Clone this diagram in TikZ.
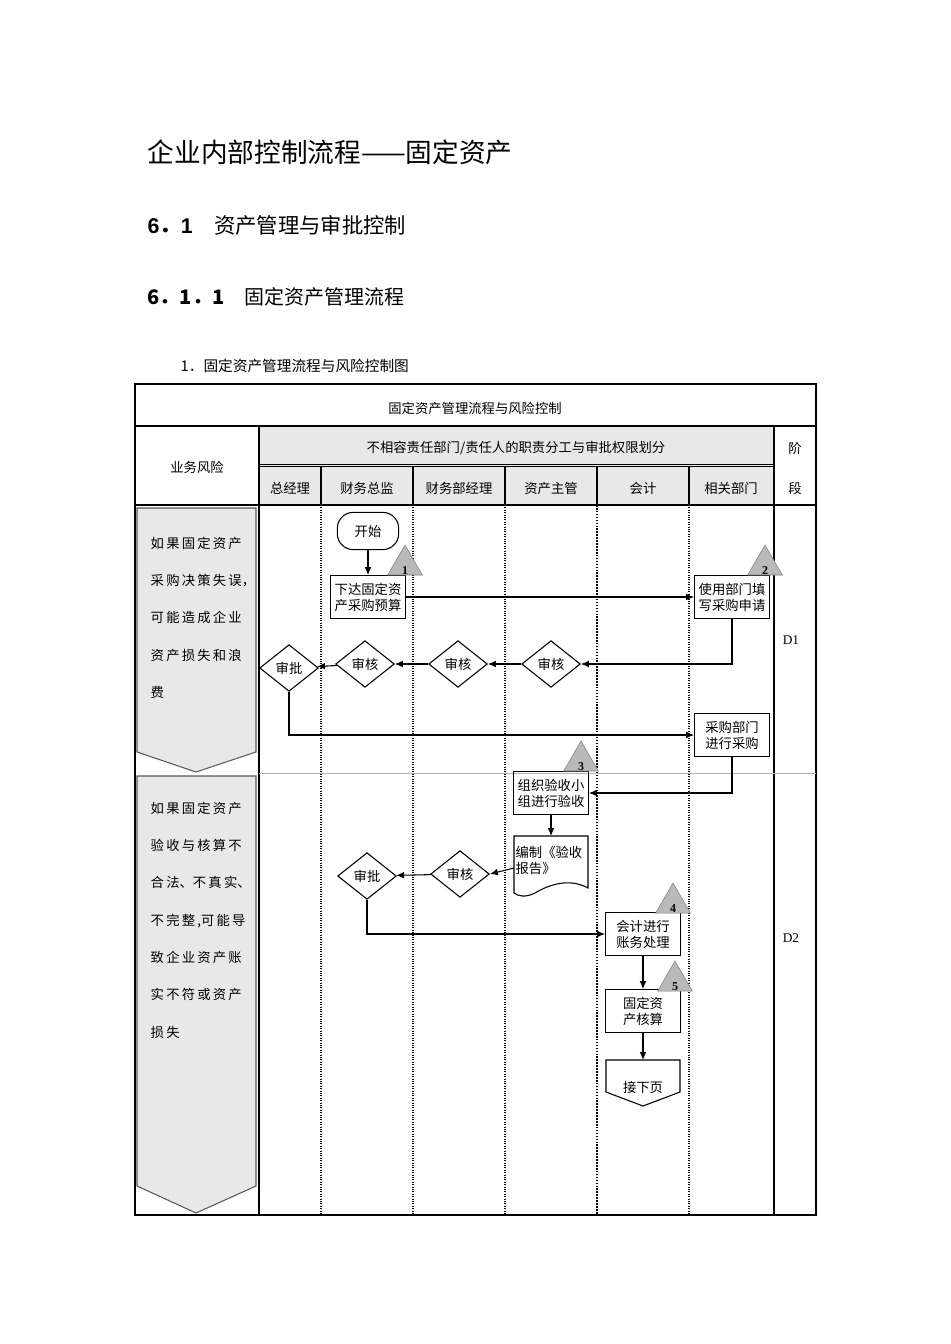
\documentclass[tikz,border=0pt]{standalone}
\usepackage{fontspec}
\setmainfont{Liberation Serif}
\newfontfamily\cjk{Noto Sans CJK SC}
\newfontfamily\hsans{Liberation Sans}
\usetikzlibrary{arrows.meta,shapes.geometric}
\begin{document}
\begin{tikzpicture}[x=0.75pt,y=-0.75pt,
  every node/.style={font=\cjk\fontsize{10}{12}\selectfont},
  proc/.style={draw,thick,minimum width=56pt,minimum height=32pt,inner sep=1pt,align=left},
  dia/.style={draw,thick,diamond,aspect=1.25,minimum width=44pt,minimum height=35pt,inner sep=0pt,fill=white},
  tri/.style={draw=gray,fill=gray!55,isosceles triangle,isosceles triangle apex angle=60,shape border rotate=90,minimum width=26pt,minimum height=22pt,inner sep=0pt},
  trilab/.style={font=\bfseries\fontsize{9}{10}\selectfont},
  arr/.style={thick,-{Latex[length=6pt,width=5pt]}},
  lane/.style={densely dotted,thick},
  riskbox/.style={draw=gray!70!black,fill=gray!18,thick}]
\useasboundingbox (0,0) rectangle (950,1344);
% headings
\node[anchor=west,font=\cjk\fontsize{20}{24}\selectfont] (t1) at (143,152) {企业内部控制流程——固定资产};
\node[anchor=west,font=\cjk\fontsize{16}{20}\selectfont] (t2) at (143,225) {{\hsans\bfseries 6}{\bfseries ．}{\hsans\bfseries 1}\quad 资产管理与审批控制};
\node[anchor=west,font=\cjk\fontsize{15}{20}\selectfont] (t3) at (143,297) {{\bfseries 6．1．1}\quad 固定资产管理流程};
\node[anchor=west,font=\cjk\fontsize{11}{13}\selectfont] (t4) at (176,366) {1．固定资产管理流程与风险控制图};
% table
\fill[gray!18] (259,426) rectangle (774,505);
\draw[thick] (135,384) rectangle (816,1215);
\draw[thick] (135,426) -- (816,426);
\draw (259,464) -- (774,464);
\draw (259,466) -- (774,466);
\draw[thick] (135,505) -- (816,505);
\draw[thick] (259,426) -- (259,1215);
\draw[thick] (774,426) -- (774,1215);
\foreach \x in {321,413,505,597,689} \draw[thick] (\x,466) -- (\x,505);
\foreach \x in {321,413,505,689} \draw[lane] (\x,505) -- (\x,1215);
\draw[lane,very thick] (597,505) -- (597,1215);
\draw[gray!60] (259,773) -- (816,773);
\node (h0) at (475,408) {固定资产管理流程与风险控制};
\node (h1) at (516,448) {不相容责任部门/责任人的职责分工与审批权限划分};
\node (h2) at (197,467) {业务风险};
\node (h3) at (795,448) {阶};
\node (h4) at (795,488) {段};
\node (c1) at (290,488) {总经理};
\node (c2) at (367,488) {财务总监};
\node (c3) at (459,488) {财务部经理};
\node (c4) at (551,488) {资产主管};
\node (c5) at (643,488) {会计};
\node (c6) at (731,488) {相关部门};
\node (d1) at (791,640) {\rmfamily D1};
\node (d2) at (791,938) {\rmfamily D2};
% risk boxes
\draw[riskbox] (137,508) -- (256,508) -- (256,752) -- (196,772) -- (137,752) -- cycle;
\draw[riskbox] (137,776) -- (256,776) -- (256,1186) -- (196,1213) -- (137,1186) -- cycle;
\node[anchor=north west,align=left,font=\cjk\fontsize{10}{28}\selectfont] (r1) at (146,532)
 {如\,果\,固\,定\,资\,产\\采\,购\,决\,策\,失\,误，\\可\,能\,造\,成\,企\,业\\资\,产\,损\,失\,和\,浪\\费};
\node[anchor=north west,align=left,font=\cjk\fontsize{10}{28}\selectfont] (r2) at (146,797)
 {如\,果\,固\,定\,资\,产\\验\,收\,与\,核\,算\,不\\合\,法、不\,真\,实、\\不\,完\,整\,,可\,能\,导\\致\,企\,业\,资\,产\,账\\实\,不\,符\,或\,资\,产\\损\,失};
% nodes
\node[draw,thick,rounded corners=12pt,minimum width=46pt,minimum height=28pt] (start) at (368,531) {开始};
\node[proc] (n1) at (368,597) {下达固定资\\产采购预算};
\node[proc] (n2) at (732,597) {使用部门填\\写采购申请};
\node[dia] (a1) at (289,668) {审批};
\node[dia] (a2) at (365,664) {审核};
\node[dia] (a3) at (458,664) {审核};
\node[dia] (a4) at (551,664) {审核};
\node[proc,align=center] (n3) at (732,735) {采购部门\\进行采购};
\node[proc] (n4) at (551,793) {组织验收小\\组进行验收};
\draw[thick,fill=white] (514,836) -- (588,836) -- (588,888) .. controls (570,878) and (550,884) .. (535,893) .. controls (525,898) and (518,896) .. (514,893) -- cycle;
\node[anchor=north west,align=left,inner sep=1pt] (n5) at (514,845) {编制《验收\\报告》};
\coordinate (n5w) at (514,868);
\coordinate (n5n) at (551,836);
\node[dia] (b1) at (460,874) {审核};
\node[dia] (b2) at (367,876) {审批};
\node[proc,align=left] (n6) at (643,934) {会计进行\\账务处理};
\node[proc,align=center] (n7) at (643,1011) {固定资\\产核算};
\draw[thick] (606,1060) -- (680,1060) -- (680,1092) -- (643,1106) -- (606,1092) -- cycle;
\node (n8) at (643,1087) {接下页};
\coordinate (n8n) at (643,1060);
% triangles
\node[tri] (g1) at (405,565) {};
\node[trilab] at (405,571) {1};
\node[tri] (g2) at (765,565) {};
\node[trilab] at (765,571) {2};
\node[tri] (g3) at (581,761) {};
\node[trilab] at (581,767) {3};
\node[tri] (g4) at (673,903) {};
\node[trilab] at (673,909) {4};
\node[tri] (g5) at (675,981) {};
\node[trilab] at (675,987) {5};
% connectors
\draw[arr] (start) -- (n1);
\draw[arr] (n1.east) -- (n2.west);
\draw[arr] (n2.south) |- (a4.east);
\draw[arr] (a4) -- (a3);
\draw[arr] (a3) -- (a2);
\draw[arr] (a2) -- (a1);
\draw[arr] (a1.south) |- (n3.west);
\draw[arr] (n3.south) |- (n4.east);
\draw[arr] (n4.south) -- (n5n);
\draw[arr] (n5w) -- (b1.east);
\draw[arr] (b1) -- (b2);
\draw[arr] (b2.south) |- (n6.west);
\draw[arr] (n6) -- (n7);
\draw[arr] (n7) -- (n8n);
\end{tikzpicture}
\end{document}
